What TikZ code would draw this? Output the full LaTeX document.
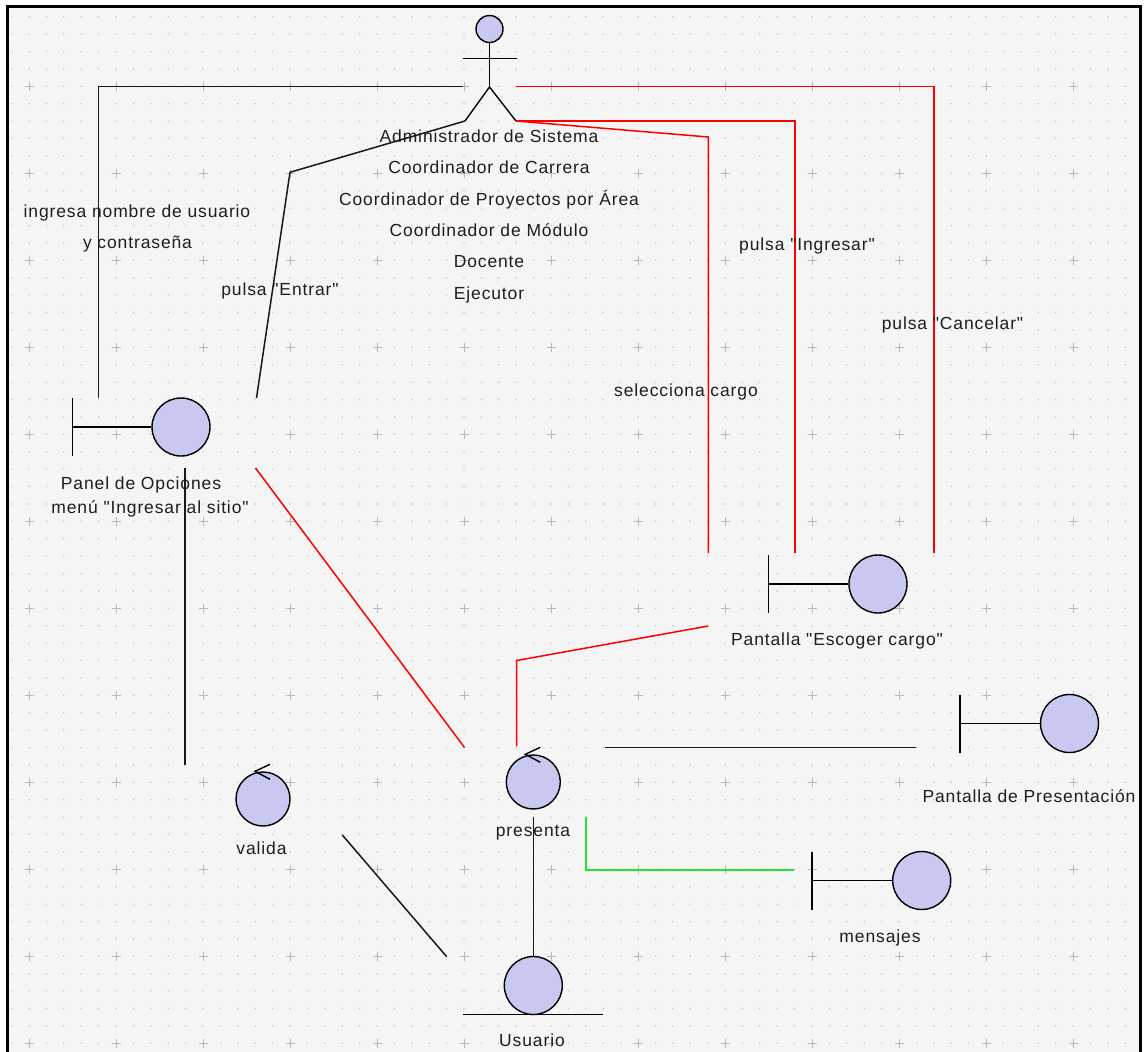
\documentclass[tikz,border=0pt]{standalone}
\usepackage{fontspec}
\setmainfont{Liberation Sans}
\newfontfamily\diagfont[LetterSpace=5]{Liberation Sans}

\definecolor{symfill}{RGB}{200,200,240}
\definecolor{canvas}{RGB}{245,245,245}
\definecolor{griddot}{RGB}{190,190,190}
\definecolor{gridplus}{RGB}{185,185,185}
\definecolor{linkred}{RGB}{255,0,0}
\definecolor{linkgreen}{RGB}{40,225,40}
\definecolor{inktext}{RGB}{30,30,30}

\tikzset{
  sym/.style={circle, draw=black, fill=symfill, line width=1.4pt, minimum size=58pt, inner sep=0pt},
  ctl/.style={sym, minimum size=54pt},
  head/.style={sym, minimum size=27pt},
  stick/.style={line width=1.4pt},
  lbl/.style={font=\diagfont\fontsize{17.5}{20}\selectfont, text=inktext, inner sep=0pt, text height=12pt, text depth=0pt},
  link/.style={line width=1.5pt, black!90},
  redlink/.style={line width=1.5pt, linkred},
  greenlink/.style={line width=1.5pt, linkgreen},
}

\begin{document}
\begin{tikzpicture}[x=1pt,y=-1pt]
    \useasboundingbox (0,0) rectangle (1146,1052);
    \clip (0,0) rectangle (1146,1052);
    \fill[white] (0,0) rectangle (1146,1052);
    \fill[canvas] (7,6) rectangle (1141,1060);

    % grid
    \fill[griddot] \foreach \i in {0,...,64}{ \foreach \j in {0,...,59}{ (11.0+17.4*\i,16.1+17.4*\j) rectangle ++(1.2,1.2) } };
    \draw[gridplus, line width=0.9pt] \foreach \i in {0,...,12}{ \foreach \j in {0,...,11}{ (29+87*\i-4.5,86.3+87*\j) -- ++(9,0) (29+87*\i,86.3+87*\j-4.5) -- ++(0,9) } };

    \draw[line width=2.6pt] (7.3,1060) -- (7.3,6.3) -- (1140.7,6.3) -- (1140.7,1060);

    % actor
    \node[head] (act) at (489.5,29) {};
    \coordinate (act-hip) at (489.5,87);
    \coordinate (act-ll) at (465,121);
    \coordinate (act-lr) at (516,121);
    \draw[stick] (act.south) -- (act-hip);
    \draw[stick] (463,58.3) -- (517,58.3);
    \draw[stick] (act-ll) -- (act-hip) -- (act-lr);
    \node[lbl] (r1) at (489,136.7) {Administrador de Sistema};
    \node[lbl] (r2) at (489,167.7) {Coordinador de Carrera};
    \node[lbl] (r3) at (489,199) {Coordinador de Proyectos por Área};
    \node[lbl] (r4) at (489,230) {Coordinador de Módulo};
    \node[lbl] (r5) at (489,261.7) {Docente};
    \node[lbl] (r6) at (489,293.3) {Ejecutor};

    % boundaries
    \node[sym] (pan) at (181,427) {};
    \draw[stick] (pan.west) -- ++(-79,0) coordinate (pan-bar);
    \draw[stick] (pan-bar) ++(0,-29) -- ++(0,58);
    \node[lbl] (pan-t1) at (141,483) {Panel de Opciones};
    \node[lbl] (pan-t2) at (150,507.5) {menú "Ingresar al sitio"};

    \node[sym] (esc) at (878,584) {};
    \draw[stick] (esc.west) -- ++(-80,0) coordinate (esc-bar);
    \draw[stick] (esc-bar) ++(0,-29) -- ++(0,58);
    \node[lbl] (esc-t) at (837,639.5) {Pantalla "Escoger cargo"};

    \node[sym] (pres) at (1069.5,723.5) {};
    \draw[stick] (pres.west) -- ++(-80,0) coordinate (pres-bar);
    \draw[stick] (pres-bar) ++(0,-29) -- ++(0,58);
    \node[lbl] (pres-t) at (1029,796.5) {Pantalla de Presentación};

    \node[sym] (msg) at (921.7,880.5) {};
    \draw[stick] (msg.west) -- ++(-80,0) coordinate (msg-bar);
    \draw[stick] (msg-bar) ++(0,-29) -- ++(0,58);
    \node[lbl] (msg-t) at (880,936) {mensajes};

    % controls
    \node[ctl] (val) at (263,799) {};
    \draw[stick] ([shift={(7,-7)}]val.north) -- ([shift={(-8,0)}]val.north) -- ([shift={(7,8)}]val.north);
    \node[lbl] (val-t) at (261.5,848.5) {valida};

    \node[ctl] (prs) at (533.3,782) {};
    \draw[stick] ([shift={(7,-7)}]prs.north) -- ([shift={(-8,0)}]prs.north) -- ([shift={(7,8)}]prs.north);
    \node[lbl] (prs-t) at (533,830.5) {presenta};

    % entity
    \node[sym] (usr) at (533.3,985.5) {};
    \draw[stick] (463,1014.5) -- (603,1014.5);
    \node[lbl] (usr-t) at (532,1040) {Usuario};

    % connectors
    \coordinate (act-w) at (463,86.3);
    \coordinate (act-e) at (516,86.3);
    \coordinate (pan-n1) at (98.5,397.5);
    \coordinate (pan-n2) at (256.5,398);
    \coordinate (pan-se) at (255.5,468);
    \coordinate (pan-s) at (185,468);
    \coordinate (esc-n1) at (708.3,553);
    \coordinate (esc-n2) at (795,553);
    \coordinate (esc-n3) at (934,553);
    \coordinate (esc-sw) at (708.3,626);
    \coordinate (prs-nw) at (464.5,747.5);
    \coordinate (prs-n) at (516.7,746);
    \coordinate (prs-e) at (605,747.3);
    \coordinate (prs-s) at (533.3,817);
    \coordinate (prs-se) at (586,817);
    \coordinate (pres-w) at (916,747.3);
    \coordinate (msg-w) at (794,870);
    \coordinate (val-n) at (185,765);
    \coordinate (val-se) at (342.3,835);
    \coordinate (usr-nw) at (446.7,956.7);
    \coordinate (usr-n) at (533.3,957);

    \draw[link] (act-w) -| (pan-n1);
    \draw[link] (act-ll) -- (290,172.3) -- (pan-n2);
    \draw[redlink] (act-e) -| (esc-n3);
    \draw[redlink] (act-lr) -| (esc-n2);
    \draw[redlink] (act-lr) -- (708.3,137) -- (esc-n1);
    \draw[redlink] (esc-sw) -- (prs-n |- 0,660.5) -- (prs-n);
    \draw[redlink] (pan-se) -- (prs-nw);
    \draw[link] (prs-e) -- (pres-w);
    \draw[link] (pan-s) -- (val-n);
    \draw[link] (val-se) -- (usr-nw);
    \draw[link] (prs-s) -- (usr-n);
    \draw[greenlink] (prs-se) |- (msg-w);

    \node[lbl] (l1) at (137,211.7) {ingresa nombre de usuario};
    \node[lbl] (l2) at (137.5,242.7) {y contraseña};
    \node[lbl] (l3) at (280,289) {pulsa "Entrar"};
    \node[lbl] (l4) at (807,244) {pulsa "Ingresar"};
    \node[lbl] (l5) at (952.5,323) {pulsa "Cancelar"};
    \node[lbl] (l6) at (686,390.7) {selecciona cargo};
\end{tikzpicture}
\end{document}
